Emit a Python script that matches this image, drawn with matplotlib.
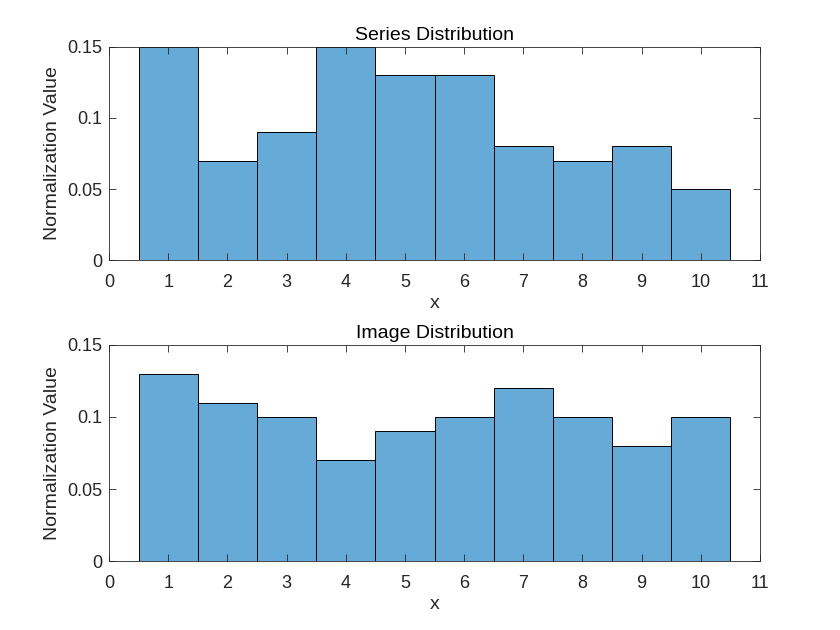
import matplotlib
matplotlib.use('Agg')
import matplotlib.pyplot as plt
import numpy as np

# bin centres and normalised counts
bins = [1, 2, 3, 4, 5, 6, 7, 8, 9, 10]
series_vals = [0.15, 0.07, 0.09, 0.15, 0.13, 0.13, 0.08, 0.07, 0.08, 0.05]
image_vals = [0.13, 0.11, 0.10, 0.07, 0.09, 0.10, 0.12, 0.10, 0.08, 0.10]
xticks = list(range(0, 12))
yticks = [0, 0.05, 0.1, 0.15]
ytick_labels = ['0', '0.05', '0.1', '0.15']

plt.rcParams['font.family'] = ['Liberation Sans', 'DejaVu Sans']
fig = plt.figure(figsize=(8.4, 6.3), dpi=100)
bar_color = '#66aad7'
ax_color = '#262626'

panels = [
    ([0.1298, 0.5873, 0.775, 0.3381], series_vals, 'Series Distribution'),
    ([0.1298, 0.1095, 0.775, 0.3429], image_vals, 'Image Distribution'),
]

for pos, vals, title in panels:
    ax = fig.add_axes(pos)
    ax.bar(bins, vals, width=1.0, color=bar_color, edgecolor='black', linewidth=0.7)
    ax.set_xlim(0, 11)
    ax.set_ylim(0, 0.15)
    ax.set_xticks(xticks)
    ax.set_yticks(yticks)
    ax.set_yticklabels(ytick_labels)
    ax.tick_params(direction='in', top=True, right=True, length=5, width=0.6,
                   colors=ax_color, labelsize=13, labelcolor=ax_color)
    ax.tick_params(axis='y', pad=5)
    ax.tick_params(axis='x', pad=10)
    for s in ax.spines.values():
        s.set_color(ax_color)
        s.set_linewidth(0.6)
    ax.set_xlabel('x', fontsize=14, color=ax_color, labelpad=3)
    ax.set_ylabel('Normalization Value', fontsize=14, color=ax_color, labelpad=4)
    ax.set_title(title, fontsize=14, color='black', pad=5)

fig.savefig('out.png', dpi=100)
